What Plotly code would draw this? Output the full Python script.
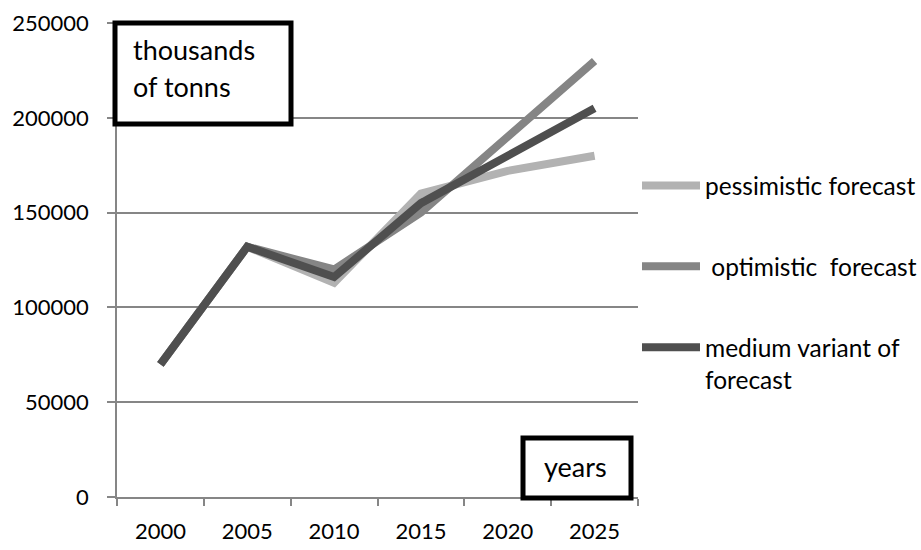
import plotly.graph_objects as go

years = ["2000", "2005", "2010", "2015", "2020", "2025"]
pessimistic = [70000, 132000, 113000, 160000, 172000, 180000]
optimistic = [70000, 132000, 120000, 150000, 190000, 230000]
medium = [70000, 132000, 116000, 155000, 180000, 205000]

names = ["pessimistic forecast", " optimistic  forecast", "medium variant of<br>forecast"]
colors = ["#b2b2b2", "#858585", "#4f4f4f"]
series = [pessimistic, optimistic, medium]

FONT = "Lato"

fig = go.Figure()
for i, (nm, vals, col) in enumerate(zip(names, series, colors)):
    fig.add_trace(go.Scatter(
        x=years, y=vals, mode="lines", name=nm,
        line=dict(color=col, width=8),
        legendgroup=f"g{i}",
    ))

W, H = 921, 550
L, R, T, B = 117, 283, 23, 53
pw, ph = W - L - R, H - T - B

def px_x(p):
    return (p - L) / pw

def px_y(p):
    return (H - B - p) / ph

fig.update_layout(
    width=W, height=H,
    margin=dict(l=L, r=R, t=T, b=B, autoexpand=False),
    paper_bgcolor="white", plot_bgcolor="white",
    font=dict(family=FONT, size=22, color="black"),
    showlegend=True,
    legend=dict(
        xref="container", yref="container",
        x=637 / W, y=1 - 163 / H, xanchor="left", yanchor="top",
        font=dict(family=FONT, size=24.5, color="black"),
        tracegroupgap=46, valign="top", traceorder="grouped",
        bgcolor="rgba(0,0,0,0)", itemwidth=58,
    ),
    xaxis=dict(
        type="category", range=[-0.5, 5.5], automargin=False,
        showgrid=False, showline=True, linecolor="#868686", linewidth=1.5,
        ticks="outside", tickson="boundaries", ticklen=7, tickcolor="#868686", tickwidth=1.5,
        tickfont=dict(family=FONT, size=22, color="black"),
        ticklabelstandoff=14,
    ),
    yaxis=dict(
        range=[0, 250000], tickvals=[0, 50000, 100000, 150000, 200000, 250000],
        ticktext=["0", "50000", "100000", "150000", "200000", "250000"],
        automargin=False,
        showgrid=True, gridcolor="#868686", gridwidth=1.5,
        showline=True, linecolor="#868686", linewidth=1.5,
        ticks="outside", ticklen=8, tickcolor="#868686", tickwidth=1.5,
        tickfont=dict(family=FONT, size=22, color="black"),
        ticklabelstandoff=14, zeroline=False,
    ),
)

# unit label boxes
fig.add_shape(type="rect", xref="paper", yref="paper",
              x0=px_x(115), x1=px_x(291), y0=px_y(124), y1=px_y(23),
              line=dict(color="black", width=5), fillcolor="white", layer="above")
fig.add_shape(type="rect", xref="paper", yref="paper",
              x0=px_x(523), x1=px_x(631), y0=px_y(498), y1=px_y(438),
              line=dict(color="black", width=5), fillcolor="white", layer="above")

fig.add_annotation(xref="paper", yref="paper", x=px_x(131), y=px_y(50),
                   text="thousands", showarrow=False, xanchor="left", yanchor="middle",
                   font=dict(family=FONT, size=27, color="black"))
fig.add_annotation(xref="paper", yref="paper", x=px_x(131), y=px_y(86),
                   text="of tonns", showarrow=False, xanchor="left", yanchor="middle",
                   font=dict(family=FONT, size=27, color="black"))
fig.add_annotation(xref="paper", yref="paper", x=px_x(575), y=px_y(466),
                   text="years", showarrow=False, xanchor="center", yanchor="middle",
                   font=dict(family=FONT, size=27, color="black"))

fig.write_html("out.html")
